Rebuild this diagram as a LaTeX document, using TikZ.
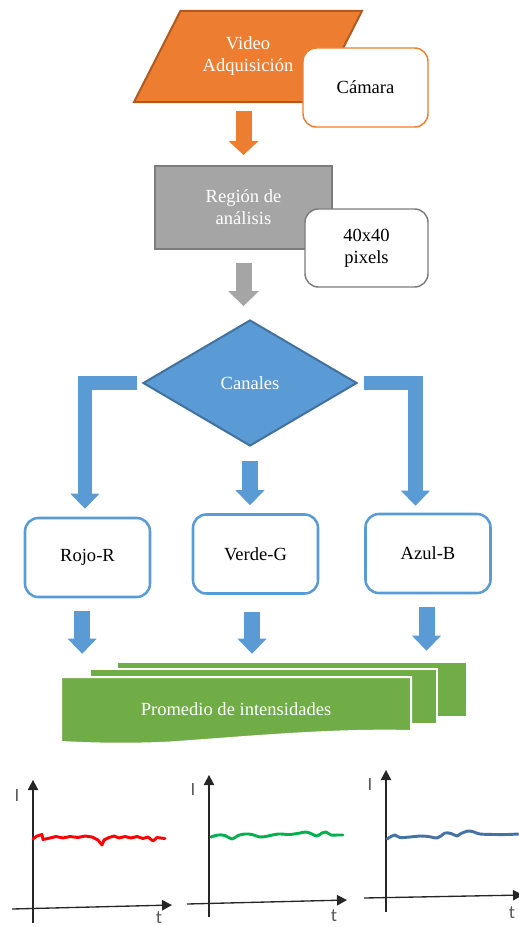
\documentclass[tikz,border=0pt]{standalone}
\usepackage{fontspec}
\setmainfont{Liberation Serif}
\newfontfamily\graffont{Carlito}
\usetikzlibrary{arrows.meta,shapes.geometric}

\definecolor{naranja}{RGB}{237,125,49}
\definecolor{naranjaosc}{RGB}{174,90,33}
\definecolor{gris}{RGB}{165,165,165}
\definecolor{grisosc}{RGB}{124,124,124}
\definecolor{azulof}{RGB}{91,155,213}
\definecolor{azulosc}{RGB}{65,113,156}
\definecolor{verdeof}{RGB}{112,173,71}
\definecolor{curvaazul}{RGB}{68,114,164}

\begin{document}
\begin{tikzpicture}[x=0.75pt,y=0.75pt,yscale=-1,
    txt/.style={font=\fontsize{13.9}{16.5}\selectfont, align=center},
    caja/.style={txt, draw, fill=white, rounded corners=10pt, line width=1.1pt,
        minimum width=93.75pt, minimum height=59.25pt, inner sep=0pt},
    canal/.style={caja, draw=azulof, line width=1.9pt},
    flecha/.style={line width=12pt,
        -{Triangle[length=10.5pt,width=22.5pt,line width=0pt]}},
    flechaazul/.style={flecha, color=azulof, line join=miter,
        -{Triangle[length=11.25pt,width=21.75pt,line width=0pt]}},
    hoja/.style={fill=verdeof, draw=white, line width=1.5pt},
    eje/.style={line width=1pt, black!85,
        -{Triangle[length=7.5pt,width=8pt,line width=0pt]}},
    etq/.style={font=\graffont\fontsize{14}{16}\selectfont, text=black!65, inner sep=0pt},
    senal/.style={line width=2.2pt, line join=round, line cap=round}
]
\useasboundingbox (0,0) rectangle (518,927);

%Shape: Parallelogram
\node[txt, trapezium, trapezium left angle=63, trapezium right angle=117,
    trapezium stretches body, inner ysep=19.6pt, minimum width=171pt, minimum height=68.25pt,
    fill=naranja, draw=naranjaosc, line width=1.5pt, text=white] (video) at (248,56.5) {Video\\Adquisición};
%Shape: Rounded Rect
\node[caja, draw=naranja] (cam) at (365.5,87.5) {Cámara};

%Shape: Rectangle
\node[txt, rectangle, minimum width=132.75pt, minimum height=62.25pt,
    fill=gris, draw=grisosc, line width=1.5pt, text=white] (roi) at (243.5,207.5) {Región de\\análisis};
%Shape: Rounded Rect
\node[caja, draw=grisosc, minimum width=92.25pt, minimum height=58.5pt] (pix) at (366.5,248) {40x40\\pixels};

%Shape: Diamond
\node[txt, diamond, minimum width=160.5pt, minimum height=94.5pt, inner sep=0pt,
    fill=azulof, draw=azulosc, line width=1.5pt, text=white] (canales) at (250,383) {Canales};

%Shape: Rounded Rect
\node[canal] (rojo) at (87.5,557.5) {Rojo-R};
\node[canal] (verde) at (255.5,554) {Verde-G};
\node[canal] (azul) at (428,553.5) {Azul-B};

%Block arrows
\draw[flecha, naranja, shorten <=6pt, shorten >=7.5pt] (video.south -| roi.north) -- (roi.north);
\draw[flecha, gris, -{Triangle[length=11.25pt,width=23.25pt,line width=0pt]},
    shorten <=9.75pt, shorten >=9.75pt] (roi.south) -- (roi.south |- canales.north);
\draw[flechaazul, line width=11pt, shorten <=3.75pt, shorten >=6pt] (canales.west) -| ([xshift=-1.9pt]rojo.north);
\draw[flechaazul, line width=11pt, shorten <=4.5pt, shorten >=5.25pt] (canales.east) -| ([xshift=-9.4pt]azul.north);
\draw[flechaazul, shorten <=10.5pt, shorten >=6pt] (canales.south) -- (canales.south |- verde.north);

%Shape: Multidocument
\draw[hoja] (117,662) rectangle (467,717);
\draw[hoja] (90,669) rectangle (437,724);
\draw[hoja] (61,677) -- (411,677) -- (411,731)
    .. controls (330,729) and (250,737) .. (170,742.5)
    .. controls (120,745) and (80,743) .. (61,742) -- cycle;
% Text Node
\node[txt, text=white, minimum width=262.5pt, minimum height=48.75pt, inner sep=0pt] (prom) at (236,709.5) {Promedio de intensidades};

\draw[flechaazul, shorten <=9.75pt, shorten >=17.25pt] ([xshift=-4pt]rojo.south) -- ([xshift=-4pt]rojo.south |- prom.north);
\draw[flechaazul, shorten <=12.75pt, shorten >=17.25pt] ([xshift=-2.6pt]verde.south) -- ([xshift=-2.6pt]verde.south |- prom.north);
\draw[flechaazul, shorten <=9.75pt, shorten >=19.5pt] ([xshift=-1.1pt]azul.south) -- ([xshift=-1.1pt]azul.south |- prom.north);

%Graph: red channel
\draw[eje] (33,923) -- (33,780);
\draw[eje] (12,909) -- (172,905);
\node[etq] (i1) at (17,796) {I};
\node[etq] (t1) at (159,918) {t};
\draw[senal, red] (33,839) -- (37,836) -- (42,834.5) -- (43,839.5) -- (50,838) -- (56,836.5)
    -- (63,838) -- (70,836.5) -- (78,837.5) -- (85,836) -- (92,837) -- (98,840) -- (102,845)
    -- (104,840) -- (109,837.5) -- (114,836) -- (119,838) -- (125,836.5) -- (131,838)
    -- (137,836.5) -- (143,838.5) -- (148,837) -- (153,841) -- (157,837.5) -- (165,838.5);

%Graph: green channel
\draw[eje] (209,917) -- (209,775);
\draw[eje] (187,904) -- (347,900);
\node[etq] (i2) at (193,790) {I};
\node[etq] (t2) at (334,916) {t};
\draw[senal, color={rgb,255:red,0;green,176;blue,80}] plot[smooth, tension=0.6] coordinates {
    (211,837) (218,835) (225,835.5) (232,839) (238,835.5) (245,834) (252,834.5) (260,837)
    (268,836) (278,834) (290,834.5) (300,833) (306,832) (312,834) (317,836) (322,833)
    (326,832) (331,835) (337,835) (343,835)};

%Graph: blue channel
\draw[eje] (386,912) -- (386,770);
\draw[eje] (364,898) -- (523,895);
\node[etq] (i3) at (370,785) {I};
\node[etq] (t3) at (512,913) {t};
\draw[senal, curvaazul] plot[smooth, tension=0.6] coordinates {
    (387,839) (392,836) (395,835) (400,837.5) (410,837) (420,836) (428,836.5) (437,838)
    (441,836) (445,833) (451,833.5) (457,836) (460,834) (468,831) (474,832) (480,834)
    (495,834.5) (507,834.5) (518,834)};

\end{tikzpicture}
\end{document}
